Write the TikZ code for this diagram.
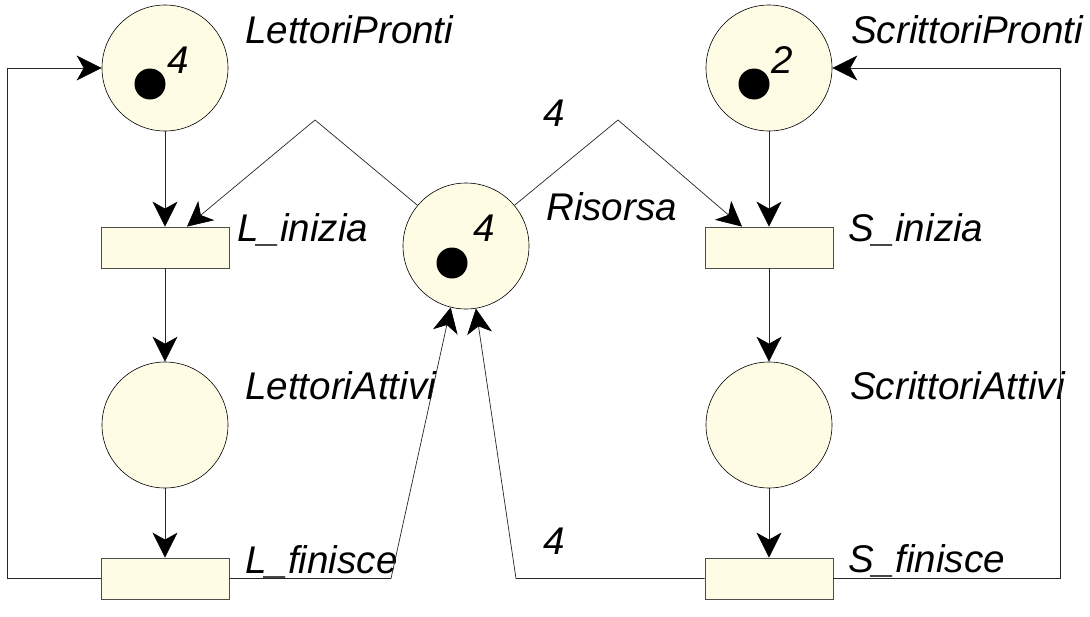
\documentclass[tikz,border=0pt]{standalone}
\usepackage{fontspec}
\setmainfont{Liberation Sans}
\usetikzlibrary{arrows.meta,calc}
\definecolor{pfill}{RGB}{255,252,230}
\begin{document}
\begin{tikzpicture}[x=1pt,y=-1pt,
  place/.style={circle,draw=black,line width=0.6pt,fill=pfill,minimum size=126pt,inner sep=0pt},
  trans/.style={rectangle,draw=black!70,line width=0.8pt,fill=pfill,minimum width=128pt,minimum height=41pt,inner sep=0pt},
  token/.style={circle,fill=black,minimum size=31pt,inner sep=0pt},
  lbl/.style={anchor=base west,font=\fontsize{38.6}{40}\selectfont\itshape,inner sep=0pt},
  num/.style={font=\fontsize{38.6}{40}\selectfont\itshape,inner sep=0pt},
  arc/.style={draw=black!85,line width=0.7pt},
  arr/.style={arc,-{Stealth[length=25pt,width=25pt,inset=7pt,black]}}
]
\useasboundingbox[fill=white] (0,0) rectangle (1090,616);

% places
\node[place] (lp) at (165,68) {};
\node[place] (la) at (165,425) {};
\node[place] (ris) at (466,246) {};
\node[place] (sp) at (769,68) {};
\node[place] (sa) at (769,425) {};
% transitions
\node[trans] (li) at (165,247.5) {};
\node[trans] (lf) at (165,578.5) {};
\node[trans] (si) at (769,247.5) {};
\node[trans] (sf) at (769,578.5) {};

% tokens
\node[token] (lpt) at (150,84) {};
\node[num] (lpn) at (178,60) {4};
\node[token] (spt) at (754,84) {};
\node[num] (spn) at (782,60) {2};
\node[token] (rist) at (452,263) {};
\node[num] (risn) at (484,228) {4};

% labels
\node[lbl] (lpl) at (245,43) {LettoriPronti};
\node[lbl] (spl) at (851,43) {ScrittoriPronti};
\node[lbl] (lil) at (237,241) {L\_inizia};
\node[lbl] (risl) at (546,220) {Risorsa};
\node[lbl] (sil) at (848,241) {S\_inizia};
\node[lbl] (lal) at (245,399) {LettoriAttivi};
\node[lbl] (sal) at (850,399) {ScrittoriAttivi};
\node[lbl] (lfl) at (245,573) {L\_finisce};
\node[lbl] (sfl) at (848,572) {S\_finisce};

% arc weights
\node[num] (w1) at (554,113) {4};
\node[num] (w2) at (554,541) {4};

% connectors
\draw[arr] (lp.south) -- (li.north);
\draw[arr] (li.south) -- (la.north);
\draw[arr] (la.south) -- (lf.north);
\draw[arr] (sp.south) -- (si.north);
\draw[arr] (si.south) -- (sa.north);
\draw[arr] (sa.south) -- (sf.north);

\coordinate (pkL) at (315,120);
\coordinate (pkR) at (618,120);
\draw[arr] (ris.140) -- (pkL) -- ($(li.north)+(22,0)$);
\draw[arr] (ris.40) -- (pkR) -- ($(si.north)+(-27,0)$);

\coordinate (cl1) at (7,578.5);
\coordinate (cl2) at (7,68);
\draw[arr] (lf.west) -- (cl1) -- (cl2) -- (lp.west);
\coordinate (cr1) at (1060,578.5);
\coordinate (cr2) at (1060,68);
\draw[arr] (sf.east) -- (cr1) -- (cr2) -- (sp.east);

\coordinate (bl) at (391,578.5);
\draw[arr] (lf.east) -- (bl) -- (ris.256);
\coordinate (br) at (516,578.5);
\draw[arr] (sf.west) -- (br) -- (ris.-81);
\end{tikzpicture}
\end{document}
